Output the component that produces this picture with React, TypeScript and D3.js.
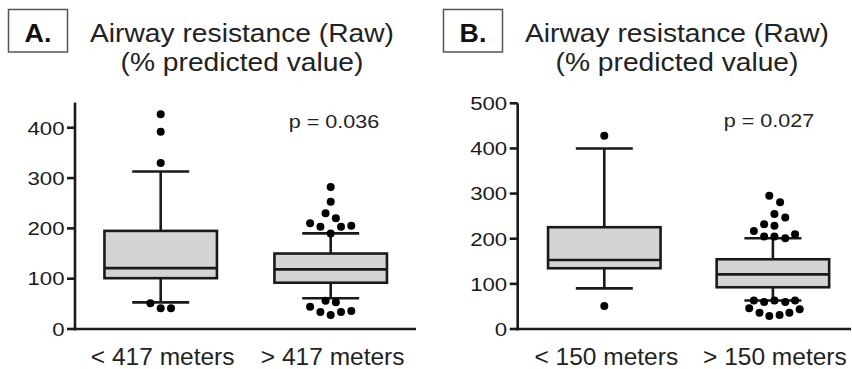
import React from "react";
import * as d3 from "d3";

// ---------- DATA ----------
const categoriesA = ["< 417 meters", "> 417 meters"];
const categoriesB = ["< 150 meters", "> 150 meters"];
const ticksA = [0, 100, 200, 300, 400];
const ticksB = [0, 100, 200, 300, 400, 500];

// box statistics per category (A)
const lowA = [53, 61];
const q1A = [101, 92];
const medA = [121, 118.5];
const q3A = [195, 150];
const highA = [313, 190];

// box statistics per category (B)
const lowB = [90, 63];
const q1B = [134.6, 92.5];
const medB = [153, 121];
const q3B = [225.5, 154.5];
const highB = [400, 201];

// outliers (values) and beeswarm jitter (in dot widths)
const outA1 = [427, 392, 330, 51, 41, 41];
const jitA1 = [0, 0, 0, -1, 0, 1];
const outA2 = [282, 253, 230, 220, 210, 203, 203, 205, 190, 56, 53, 44, 34, 28, 34, 36];
const jitA2 = [0, 0, -0.5, 0.5, -2, -1, 1, 2, 0, -0.5, 0.5, -2, -1, 0, 1, 2];
const outB1 = [428, 51];
const jitB1 = [0, 0];
const outB2 = [295, 281, 255, 247, 232, 229, 217, 205, 205, 201, 210, 63, 60, 63, 60, 63, 46, 36, 29, 31, 36, 44];
const jitB2 = [-0.35, 0.7, 0.15, 1.2, -0.85, 0.15, -1.85, -0.85, 0.15, 1.2, 2.15, -1.85, -0.85, 0.15, 1.2, 2.15, -2.3, -1.3, -0.35, 0.65, 1.6, 2.6];

const pValueA = "p = 0.036";
const pValueB = "p = 0.027";
const titleLine1 = "Airway resistance (Raw)";
const titleLine2 = "(% predicted value)";

// ---------- LAYOUT ----------
const W = 852;
const H = 369;
const FONT = "'Liberation Sans', Arial, Helvetica, sans-serif";
const INK = "#1a1a1a";

type Panel = {
  letter: string;
  cats: string[];
  ticks: number[];
  yMax: number;
  yTop: number;
  axisX: number;
  axisEnd: number;
  bandStart: number;
  step: number;
  low: number[];
  q1: number[];
  med: number[];
  q3: number[];
  high: number[];
  outs: number[][];
  jits: number[][];
  p: string;
  pX: number;
  pY: number;
  titleCx: number;
  boxX: number;
};

const panels: Panel[] = [
  {
    letter: "A.",
    cats: categoriesA,
    ticks: ticksA,
    yMax: 450,
    yTop: 102.6,
    axisX: 75,
    axisEnd: 416,
    bandStart: 75.7,
    step: 170,
    low: lowA,
    q1: q1A,
    med: medA,
    q3: q3A,
    high: highA,
    outs: [outA1, outA2],
    jits: [jitA1, jitA2],
    p: pValueA,
    pX: 334,
    pY: 128,
    titleCx: 242,
    boxX: 8.5,
  },
  {
    letter: "B.",
    cats: categoriesB,
    ticks: ticksB,
    yMax: 500,
    yTop: 103.3,
    axisX: 517.7,
    axisEnd: 851,
    bandStart: 520,
    step: 168.6,
    low: lowB,
    q1: q1B,
    med: medB,
    q3: q3B,
    high: highB,
    outs: [outB1, outB2],
    jits: [jitB1, jitB2],
    p: pValueB,
    pX: 769,
    pY: 126.7,
    titleCx: 677,
    boxX: 443.5,
  },
];

const Y0 = 329;
const BOX_W = 112.5;
const CAP_HALF = 28.5;
const DOT_R = 4;
const LANE = 10.3;

function STxt(props: {
  x: number;
  y: number;
  sx?: number;
  size: number;
  anchor?: string;
  weight?: string | number;
  fill?: string;
  children: React.ReactNode;
}) {
  const { x, y, sx = 1, size, anchor = "middle", weight = "normal", fill = INK, children } = props;
  return (
    <text
      transform={`translate(${x},${y}) scale(${sx},1)`}
      fontFamily={FONT}
      fontSize={size}
      fontWeight={weight}
      textAnchor={anchor}
      fill={fill}
    >
      {children}
    </text>
  );
}

function PanelView({ p }: { p: Panel }) {
  const y = d3.scaleLinear().domain([0, p.yMax]).range([Y0, p.yTop]);
  const x = d3
    .scaleBand<string>()
    .domain(p.cats)
    .range([p.bandStart, p.bandStart + p.step * p.cats.length])
    .paddingInner(0)
    .paddingOuter(0);
  const bw = x.bandwidth();
  const sw = 2.6;

  return (
    <g>
      {/* panel letter box */}
      <rect x={p.boxX} y={9.5} width={59} height={42.5} fill="#fff" stroke="#555" strokeWidth={1.5} />
      <STxt x={p.boxX + 29.5} y={41.7} size={26} weight="bold" sx={1.03} fill="#111">
        {p.letter}
      </STxt>
      {/* title */}
      <STxt x={p.titleCx} y={41.7} size={26} sx={1.085} fill="#222">
        {titleLine1}
      </STxt>
      <STxt x={p.titleCx} y={71} size={26} sx={1.085} fill="#222">
        {titleLine2}
      </STxt>

      {/* axes */}
      <line x1={p.axisX} x2={p.axisX} y1={Y0 + sw / 2} y2={y(p.yMax)} stroke={INK} strokeWidth={sw} />
      <line x1={p.axisX - sw / 2} x2={p.axisEnd} y1={Y0} y2={Y0} stroke={INK} strokeWidth={sw} />
      {p.ticks.map((t) => (
        <g key={t}>
          <line x1={p.axisX - 8} x2={p.axisX} y1={y(t)} y2={y(t)} stroke={INK} strokeWidth={sw} />
          <STxt x={p.axisX - 10.5} y={y(t) + 6.8} size={18.5} sx={1.2} anchor="end">
            {t}
          </STxt>
        </g>
      ))}

      {/* boxes */}
      {p.cats.map((c, i) => {
        const cx = (x(c) as number) + bw / 2;
        return (
          <g key={c}>
            <line x1={cx} x2={cx} y1={y(p.high[i])} y2={y(p.q3[i])} stroke={INK} strokeWidth={sw} />
            <line x1={cx} x2={cx} y1={y(p.q1[i])} y2={y(p.low[i])} stroke={INK} strokeWidth={sw} />
            <line x1={cx - CAP_HALF} x2={cx + CAP_HALF} y1={y(p.high[i])} y2={y(p.high[i])} stroke={INK} strokeWidth={sw} />
            <line x1={cx - CAP_HALF} x2={cx + CAP_HALF} y1={y(p.low[i])} y2={y(p.low[i])} stroke={INK} strokeWidth={sw} />
            <rect
              x={cx - BOX_W / 2}
              y={y(p.q3[i])}
              width={BOX_W}
              height={y(p.q1[i]) - y(p.q3[i])}
              fill="#d4d4d4"
              stroke={INK}
              strokeWidth={sw}
            />
            <line x1={cx - BOX_W / 2} x2={cx + BOX_W / 2} y1={y(p.med[i])} y2={y(p.med[i])} stroke={INK} strokeWidth={sw} />
            {p.outs[i].map((v, k) => (
              <circle key={k} cx={cx + p.jits[i][k] * LANE} cy={y(v)} r={DOT_R} fill="#000" />
            ))}
            <text
              x={cx + 2}
              y={364.5}
              fontFamily={FONT}
              fontSize={24.5}
              textAnchor="middle"
              fill="#222"
            >
              {c}
            </text>
          </g>
        );
      })}

      {/* p value */}
      <STxt x={p.pX} y={p.pY} size={18.6} sx={1.16} fill="#222">
        {p.p}
      </STxt>
    </g>
  );
}

export default function App() {
  return (
    <svg
      width={W}
      height={H}
      viewBox={`0 0 ${W} ${H}`}
      style={{ position: "absolute", left: 0, top: 0, background: "#fff" }}
    >
      <rect x={0} y={0} width={W} height={H} fill="#fff" />
      {panels.map((p) => (
        <PanelView key={p.letter} p={p} />
      ))}
    </svg>
  );
}
